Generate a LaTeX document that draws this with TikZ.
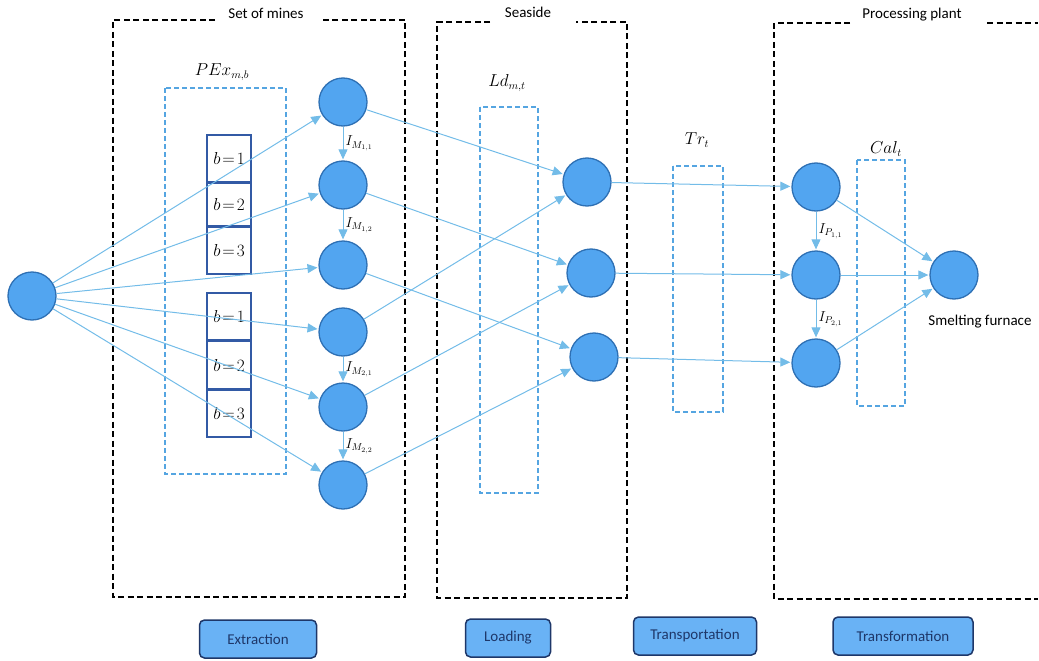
\documentclass[tikz,border=0pt]{standalone}
\usepackage{fontspec}
\setmainfont{Carlito}
\usetikzlibrary{arrows.meta,positioning}
\definecolor{nodeblue}{RGB}{82,165,240}
\definecolor{nodeedge}{RGB}{46,112,180}
\definecolor{flowblue}{RGB}{115,188,232}
\definecolor{dashblue}{RGB}{85,165,225}
\definecolor{cellblue}{RGB}{50,90,165}
\definecolor{btnfill}{RGB}{105,178,245}
\definecolor{btnedge}{RGB}{30,55,105}
\tikzstyle{regionbox}=[draw=black,line width=2pt,dash pattern=on 6pt off 3.5pt]

\begin{document}
\begin{tikzpicture}[x=1pt,y=-1pt,>={Triangle[length=10pt,width=9pt]},shorten >=1pt,
                    main node/.style={circle,draw=nodeedge,fill=nodeblue,line width=1.3pt,
                                      minimum size=48pt,inner sep=0pt},
                    flow/.style={->,color=flowblue,line width=1pt},
                    varbox/.style={draw=dashblue,line width=1.5pt,dash pattern=on 5pt off 3pt},
                    cell/.style={draw=cellblue,line width=1.6pt,minimum width=44pt,inner sep=0pt,
                                 font=\fontsize{16}{18}\selectfont},
                    stage/.style={draw=btnedge,fill=btnfill,line width=1.5pt,rounded corners=5pt,
                                  minimum height=38pt,inner sep=0pt,text=btnedge,
                                  font=\fontsize{15}{17}\selectfont},
                    title/.style={font=\fontsize{15}{17}\selectfont},
                    var/.style={font=\fontsize{16}{18}\selectfont},
                    idx/.style={font=\fontsize{14}{16}\selectfont,inner sep=2pt,text=black}]
\useasboundingbox (0,0) rectangle (1039,661);

% regions
\node[title] (mines) at (266,13) {Set of mines};
\node[title] (seaside) at (528,12) {Seaside};
\node[title] (plant) at (912,15) {Processing plant};
\draw[regionbox] (215,20) -- (113,20) -- (113,597) -- (405,597) -- (405,20) -- (322,20);
\draw[regionbox] (490,22) -- (437,22) -- (437,598) -- (627,598) -- (627,22) -- (575,22);
\draw[regionbox] (850,23) -- (774,23) -- (774,599) -- (1039,599);
\draw[regionbox] (987,23) -- (1039,23);

% decision variables
\draw[varbox] (165,88) rectangle (286,474);
\node[var] (pex) at (222,72) {$PEx_{m,b}$};
\draw[varbox] (480,107) rectangle (538,493);
\node[var] (ld) at (507,83) {$Ld_{m,t}$};
\draw[varbox] (673,166) rectangle (723,412);
\node[var] (tr) at (697,140) {$Tr_t$};
\draw[varbox] (857,160) rectangle (905,406);
\node[var] (cal) at (886,149) {$Cal_t$};

% blocks of each mine
\node[cell,minimum height=47pt] (b11) at (229,158.5) {$b\!=\!1$};
\node[cell,minimum height=42pt] (b12) [below=0pt of b11] {$b\!=\!2$};
\node[cell,minimum height=47pt] (b13) [below=0pt of b12] {$b\!=\!3$};
\node[cell,minimum height=47pt] (b21) at (229,316.5) {$b\!=\!1$};
\node[cell,minimum height=47pt] (b22) [below=0pt of b21] {$b\!=\!2$};
\node[cell,minimum height=47pt] (b23) [below=0pt of b22] {$b\!=\!3$};

% nodes
\node[main node] (src) at (32,296) {};
\node[main node] (m1) at (343,102) {};
\node[main node] (m2) at (343,185) {};
\node[main node] (m3) at (343,265) {};
\node[main node] (m4) at (343,332) {};
\node[main node] (m5) at (343,407) {};
\node[main node] (m6) at (343,485) {};
\node[main node] (s1) at (587,182) {};
\node[main node] (s2) at (591,273) {};
\node[main node] (s3) at (594,357) {};
\node[main node] (p1) at (816,187) {};
\node[main node] (p2) at (816,275) {};
\node[main node] (p3) at (816,363) {};
\node[main node] (f) at (954,275) {};
\node[title] (furnace) [below=12pt of f,xshift=26pt] {Smelting furnace};

\path[flow]
  (src) edge (m1)
        edge (m2)
        edge (m3)
        edge (m4)
        edge (m5)
        edge (m6)
  (m1) edge node[idx,right] {$I_{M_{1,1}}$} (m2)
       edge (s1)
  (m2) edge node[idx,right] {$I_{M_{1,2}}$} (m3)
       edge (s2)
  (m3) edge (s3)
  (m4) edge node[idx,right] {$I_{M_{2,1}}$} (m5)
       edge (s1)
  (m5) edge node[idx,right] {$I_{M_{2,2}}$} (m6)
       edge (s2)
  (m6) edge (s3)
  (s1) edge (p1)
  (s2) edge (p2)
  (s3) edge (p3)
  (p1) edge node[idx,right] {$I_{P_{1,1}}$} (p2)
       edge (f)
  (p2) edge node[idx,right] {$I_{P_{2,1}}$} (p3)
       edge (f)
  (p3) edge (f);

% stages
\node[stage,minimum width=117pt] (extr) at (258,639) {Extraction};
\node[stage,minimum width=85pt] (load) at (508,638) {Loading};
\node[stage,minimum width=123pt] (trans) at (695,636) {Transportation};
\node[stage,minimum width=140pt] (transf) at (903,636) {Transformation};
\end{tikzpicture}
\end{document}
